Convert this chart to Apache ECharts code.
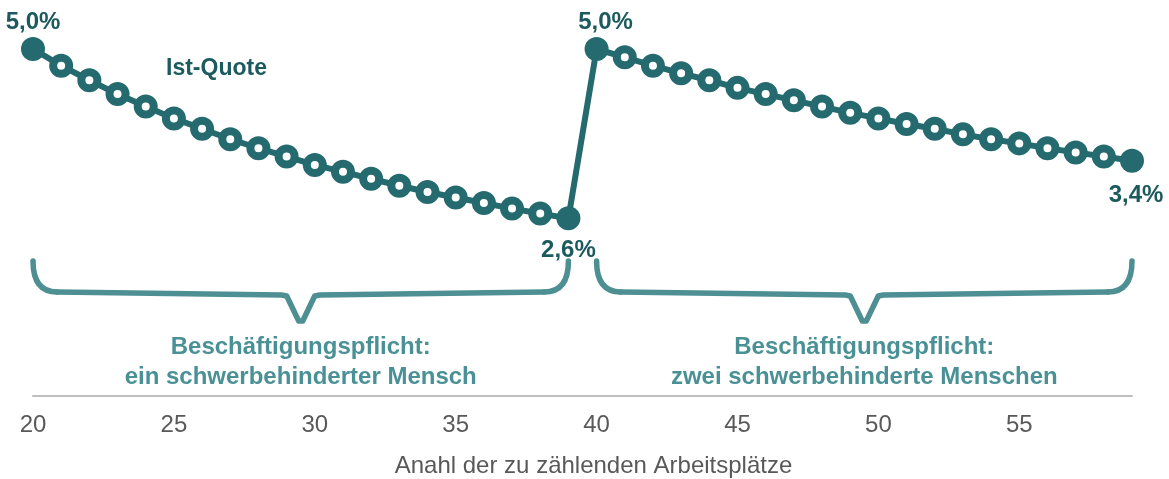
<!DOCTYPE html>
<html>
<head>
<meta charset="utf-8">
<script src="https://cdn.jsdelivr.net/npm/echarts@6/dist/echarts.min.js"></script>
<style>
html, body { margin: 0; padding: 0; background: #fff; }
#main { width: 1169px; height: 479px; }
</style>
</head>
<body>
<div id="main"></div>
<script>
// Anzahl der Arbeitsplätze
var plaetze = [20, 21, 22, 23, 24, 25, 26, 27, 28, 29, 30, 31, 32, 33, 34, 35, 36, 37, 38, 39,
               40, 41, 42, 43, 44, 45, 46, 47, 48, 49, 50, 51, 52, 53, 54, 55, 56, 57, 58, 59];
// Ist-Quote in %
var istQuote = [5.00, 4.76, 4.55, 4.35, 4.17, 4.00, 3.85, 3.70, 3.57, 3.45, 3.33, 3.23, 3.13, 3.03, 2.94, 2.86, 2.78, 2.70, 2.63, 2.56,
                5.00, 4.88, 4.76, 4.65, 4.55, 4.44, 4.35, 4.26, 4.17, 4.08, 4.00, 3.92, 3.85, 3.77, 3.70, 3.64, 3.57, 3.51, 3.45, 3.39];
// Punkte mit Beschriftung
var labelAt = [20, 39, 40, 59];
// Klammern: Bereich + Text
var bereiche = [[20, 39], [40, 59]];
var bereichText = ['Beschäftigungspflicht:\nein schwerbehinderter Mensch',
                   'Beschäftigungspflicht:\nzwei schwerbehinderte Menschen'];

var dunkel = '#246a6e';
var schrift = '#1c5a5e';
var hell = '#4d8f93';
var font = '"Liberation Sans", Arial, sans-serif';

var chart = echarts.init(document.getElementById('main'));

var daten = plaetze.map(function (p, i) {
	var item = { value: [p, istQuote[i]] };
	var k = labelAt.indexOf(p);
	if (k >= 0) {
		item.symbolSize = 24;
		item.itemStyle = { color: dunkel, borderWidth: 0 };
		var oben = (k % 2 === 0);
		item.label = {
			show: true,
			position: oben ? 'top' : 'bottom',
			distance: oben ? 3 : 8,
			offset: k === 2 ? [9, 0] : (k === 3 ? [4, 3] : [0, 0])
		};
	}
	return item;
});

chart.setOption({
	animation: false,
	grid: { left: 33, right: 37, top: 49, bottom: 83, outerBoundsMode: 'none', containLabel: false },
	xAxis: {
		type: 'value',
		min: 20,
		max: 59,
		interval: 5,
		name: 'Anahl der zu zählenden Arbeitsplätze',
		nameLocation: 'middle',
		nameGap: 58,
		nameTextStyle: { color: '#595959', fontSize: 24, fontFamily: font, padding: [0, 0, 0, 22] },
		axisLine: { show: true, lineStyle: { color: '#bfbfbf', width: 2 } },
		axisTick: { show: false },
		splitLine: { show: false },
		axisLabel: { color: '#595959', fontSize: 24, fontFamily: font, margin: 17, showMaxLabel: false }
	},
	yAxis: {
		type: 'value',
		min: 0,
		max: 5,
		show: false
	},
	series: [{
		name: 'Ist-Quote',
		type: 'line',
		data: daten,
		symbol: 'circle',
		symbolSize: 16,
		itemStyle: { color: '#fff', borderColor: dunkel, borderWidth: 8 },
		lineStyle: { color: dunkel, width: 6 },
		label: {
			show: false,
			color: schrift,
			fontSize: 24,
			fontWeight: 'bold',
			fontFamily: font,
			formatter: function (p) { return p.value[1].toFixed(1).replace('.', ',') + '%'; }
		}
	}]
});

// Klammern unter den beiden Abschnitten
var elemente = [{
	type: 'text',
	left: 166,
	top: 57,
	style: { text: 'Ist-Quote', fill: schrift, font: 'bold 23px ' + font }
}];
bereiche.forEach(function (b, i) {
	var x0 = chart.convertToPixel({ gridIndex: 0 }, [b[0], 0])[0];
	var x1 = chart.convertToPixel({ gridIndex: 0 }, [b[1], 0])[0];
	var mid = (x0 + x1) / 2;
	var yTop = 261, yBar = 292, yMid = 295, yTip = 321;
	var st = { stroke: hell, lineWidth: 5.5, fill: 'none', lineCap: 'round', lineJoin: 'round' };
	elemente.push({
		type: 'bezierCurve',
		shape: { x1: x0, y1: yTop, cpx1: x0, cpy1: yBar, x2: x0 + 24, y2: yBar },
		style: st
	});
	elemente.push({
		type: 'polyline',
		shape: { points: [[x0 + 24, yBar], [mid - 19, yMid], [mid - 14, yMid + 1], [mid - 2, yTip], [mid + 2, yTip], [mid + 14, yMid + 1], [mid + 19, yMid], [x1 - 24, yBar]] },
		style: st
	});
	elemente.push({
		type: 'bezierCurve',
		shape: { x1: x1 - 24, y1: yBar, cpx1: x1, cpy1: yBar, x2: x1, y2: yTop },
		style: st
	});
	elemente.push({
		type: 'text',
		x: mid,
		y: 362,
		style: {
			text: bereichText[i],
			fill: '#4a9196',
			font: 'bold 24px ' + font,
			align: 'center',
			verticalAlign: 'middle',
			lineHeight: 30
		}
	});
});
chart.setOption({ graphic: { elements: elemente } });
</script>
</body>
</html>
